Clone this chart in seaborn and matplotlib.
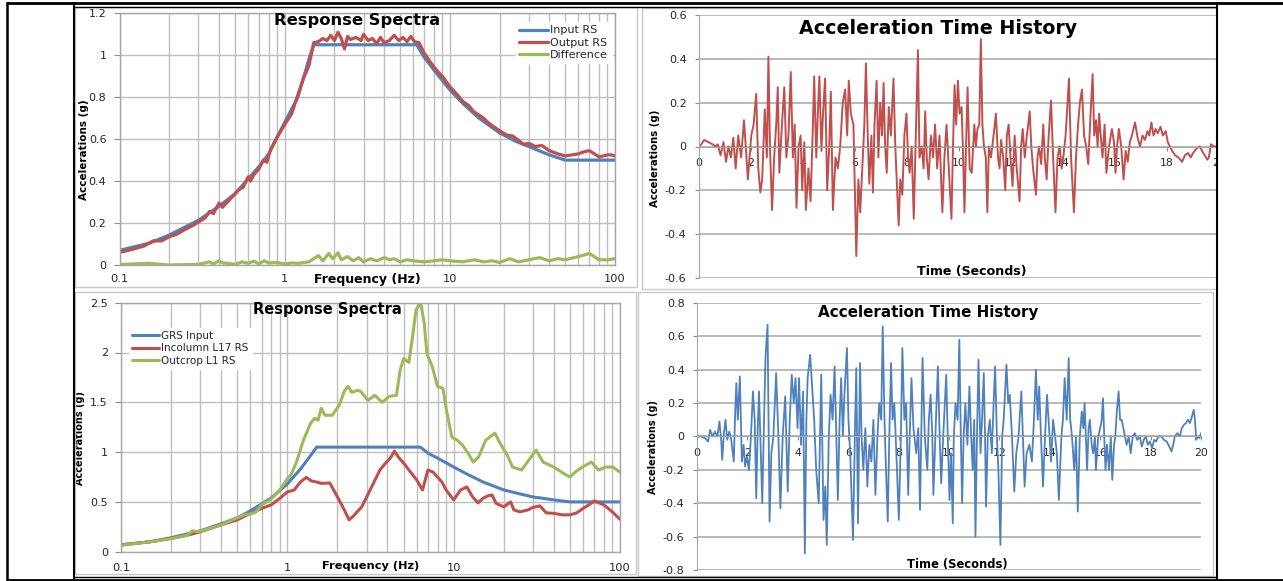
import matplotlib
matplotlib.use("Agg")
import matplotlib.pyplot as plt
import seaborn as sns
from matplotlib.ticker import LogLocator, NullFormatter
from matplotlib.patches import Rectangle
from matplotlib.lines import Line2D

# ---------------- data ----------------
freq_ticks = [0.1, 1, 10, 100]
freq_tick_labels = ["0.1", "1", "10", "100"]
time_ticks = [0, 2, 4, 6, 8, 10, 12, 14, 16, 18, 20]
time_tick_labels = ["0", "2", "4", "6", "8", "10", "12", "14", "16", "18", "20"]

rs1_yticks = [0, 0.2, 0.4, 0.6, 0.8, 1.0, 1.2]
rs1_yticklabels = ["0", "0.2", "0.4", "0.6", "0.8", "1", "1.2"]
rs2_yticks = [0, 0.5, 1.0, 1.5, 2.0, 2.5]
rs2_yticklabels = ["0", "0.5", "1", "1.5", "2", "2.5"]
th1_yticks = [-0.6, -0.4, -0.2, 0, 0.2, 0.4, 0.6]
th1_yticklabels = ["-0.6", "-0.4", "-0.2", "0", "0.2", "0.4", "0.6"]
th2_yticks = [-0.8, -0.6, -0.4, -0.2, 0, 0.2, 0.4, 0.6, 0.8]
th2_yticklabels = ["-0.8", "-0.6", "-0.4", "-0.2", "0", "0.2", "0.4", "0.6", "0.8"]

# Top-left response spectra
freq_input = [0.1, 0.15, 0.2, 0.3, 0.4, 0.5, 0.6, 0.7, 0.8, 1.0, 1.2, 1.4, 1.5, 6.3, 7, 8, 10, 12, 15, 20, 25, 30, 40, 50, 100]
input_rs = [0.07, 0.103, 0.143, 0.213, 0.28, 0.34, 0.41, 0.47, 0.53, 0.68, 0.80, 0.98, 1.05, 1.05, 0.99, 0.93, 0.835, 0.77, 0.70, 0.63, 0.59, 0.565, 0.525, 0.50, 0.50]

freq_output = [0.1, 0.12, 0.14, 0.16, 0.18, 0.2, 0.22, 0.25, 0.28, 0.3, 0.33, 0.35, 0.37, 0.4, 0.42, 0.45,
               0.5, 0.53, 0.56, 0.6, 0.62, 0.65, 0.7, 0.74, 0.78, 0.82, 0.9, 1.0, 1.1, 1.2, 1.3, 1.4, 1.5,
               1.6, 1.7, 1.8, 1.9, 2.0, 2.1, 2.2, 2.3, 2.4, 2.5, 2.7, 2.9, 3.0, 3.2, 3.4, 3.6, 3.8, 4.0,
               4.3, 4.6, 4.9, 5.2, 5.5, 5.8, 6.1, 6.5, 7.0, 7.5, 8.0, 8.5, 9.0, 10, 11, 12, 13, 14, 15,
               16, 17, 18, 20, 22, 24, 26, 28, 30, 33, 36, 40, 45, 50, 55, 60, 65, 70, 75, 80, 85, 90, 95, 100]
output_rs = [0.06, 0.075, 0.09, 0.115, 0.115, 0.135, 0.145, 0.17, 0.19, 0.205, 0.225, 0.255, 0.245, 0.295, 0.275, 0.30,
             0.34, 0.36, 0.37, 0.42, 0.40, 0.43, 0.46, 0.50, 0.49, 0.55, 0.61, 0.67, 0.72, 0.81, 0.89, 0.95, 1.06,
             1.065, 1.08, 1.07, 1.095, 1.07, 1.11, 1.08, 1.03, 1.09, 1.075, 1.085, 1.07, 1.10, 1.07, 1.08, 1.055, 1.085, 1.06,
             1.07, 1.095, 1.07, 1.085, 1.065, 1.09, 1.065, 1.06, 1.01, 0.975, 0.945, 0.92, 0.90, 0.85, 0.815, 0.78, 0.76, 0.73, 0.715,
             0.70, 0.68, 0.665, 0.64, 0.62, 0.615, 0.595, 0.575, 0.58, 0.565, 0.57, 0.545, 0.53, 0.52, 0.525, 0.53, 0.54, 0.545, 0.53, 0.515, 0.52, 0.525, 0.525, 0.52]

freq_diff = [0.1, 0.15, 0.2, 0.3, 0.35, 0.37, 0.4, 0.42, 0.45, 0.5, 0.55, 0.6, 0.65, 0.7, 0.75, 0.8, 0.9, 1.0,
             1.1, 1.2, 1.4, 1.6, 1.7, 1.85, 1.95, 2.1, 2.2, 2.4, 2.6, 2.8, 3.0, 3.3, 3.6, 4.0, 4.3, 4.6, 5.0,
             5.5, 6.0, 7.0, 8.0, 9.0, 10, 12, 14, 16, 18, 20, 23, 26, 30, 35, 40, 45, 50, 60, 70, 80, 90, 100]
diff_rs = [0.002, 0.008, 0.0, 0.003, 0.015, 0.005, 0.02, 0.01, 0.008, 0.003, 0.015, 0.008, 0.018, 0.005, 0.02, 0.01, 0.012, 0.005,
           0.01, 0.008, 0.015, 0.045, 0.02, 0.055, 0.03, 0.058, 0.025, 0.04, 0.02, 0.035, 0.015, 0.03, 0.02, 0.035, 0.025, 0.03, 0.015,
           0.025, 0.02, 0.015, 0.02, 0.025, 0.02, 0.015, 0.025, 0.015, 0.02, 0.012, 0.03, 0.015, 0.025, 0.035, 0.02, 0.03, 0.025, 0.04, 0.055, 0.025, 0.025, 0.03]

# Bottom-left response spectra
freq_grs = [0.1, 0.15, 0.2, 0.3, 0.4, 0.5, 0.6, 0.7, 0.8, 1.0, 1.2, 1.4, 1.5, 6.3, 7, 8, 10, 12, 15, 20, 25, 30, 40, 50, 100]
grs_input = [0.07, 0.10, 0.14, 0.21, 0.28, 0.34, 0.41, 0.48, 0.54, 0.68, 0.83, 0.98, 1.05, 1.05, 0.99, 0.94, 0.85, 0.78, 0.70, 0.62, 0.58, 0.55, 0.52, 0.50, 0.50]

freq_incol = [0.1, 0.15, 0.2, 0.25, 0.3, 0.4, 0.5, 0.6, 0.7, 0.8, 0.9, 1.0, 1.1, 1.2, 1.3, 1.4, 1.5, 1.6, 1.8,
              2.0, 2.2, 2.35, 2.5, 2.8, 3.0, 3.3, 3.6, 3.9, 4.2, 4.4, 4.7, 5.0, 5.5, 6.0, 6.5, 7.0, 7.5, 8.0,
              8.5, 9.0, 10, 11, 12, 13, 14, 15, 16, 17, 18, 20, 22, 23, 25, 28, 30, 33, 36, 40, 45, 50, 55,
              60, 65, 70, 75, 80, 90, 100]
incol_rs = [0.067, 0.10, 0.134, 0.165, 0.20, 0.27, 0.32, 0.385, 0.435, 0.47, 0.535, 0.60, 0.62, 0.70, 0.746, 0.71, 0.70, 0.686, 0.69,
            0.55, 0.42, 0.32, 0.36, 0.45, 0.55, 0.69, 0.82, 0.89, 0.95, 1.01, 0.94, 0.89, 0.80, 0.72, 0.62, 0.82, 0.80, 0.75,
            0.70, 0.62, 0.52, 0.62, 0.65, 0.55, 0.49, 0.535, 0.56, 0.57, 0.485, 0.45, 0.50, 0.42, 0.40, 0.42, 0.445, 0.46, 0.39, 0.385, 0.37, 0.37, 0.39,
            0.435, 0.47, 0.51, 0.49, 0.47, 0.40, 0.325]

freq_outcrop = [0.1, 0.15, 0.2, 0.25, 0.27, 0.29, 0.32, 0.4, 0.5, 0.55, 0.6, 0.65, 0.7, 0.75, 0.8, 0.9, 1.0, 1.05,
                1.13, 1.25, 1.38, 1.46, 1.53, 1.60, 1.68, 1.86, 2.05, 2.21, 2.32, 2.44, 2.63, 2.76, 3.05, 3.36, 3.72,
                4.10, 4.53, 4.76, 5.0, 5.38, 5.66, 5.94, 6.34, 6.66, 6.90, 7.43, 8.0, 8.62, 9.05, 9.75, 10.5, 11.3,
                12.2, 13.1, 14.1, 15.6, 17.7, 19.0, 21.0, 22.6, 25.6, 28.3, 31.3, 34.5, 40.0, 45.3, 50.0, 53.8, 59.4,
                67.3, 74.3, 82.0, 90.6, 100]
outcrop_rs = [0.065, 0.10, 0.13, 0.165, 0.21, 0.20, 0.22, 0.27, 0.34, 0.37, 0.38, 0.40, 0.47, 0.50, 0.53, 0.62, 0.73, 0.77,
              0.89, 1.12, 1.29, 1.34, 1.32, 1.44, 1.37, 1.37, 1.47, 1.62, 1.66, 1.60, 1.62, 1.61, 1.52, 1.57, 1.50,
              1.56, 1.57, 1.82, 1.94, 1.90, 2.16, 2.43, 2.50, 2.29, 1.99, 1.86, 1.66, 1.64, 1.42, 1.15, 1.12, 1.07,
              0.99, 0.90, 0.95, 1.12, 1.19, 1.09, 0.97, 0.85, 0.82, 0.92, 1.02, 0.90, 0.85, 0.79, 0.75, 0.80, 0.85,
              0.90, 0.82, 0.85, 0.85, 0.80]

# Top-right acceleration time history (seconds, g)
time_th1 = [0.0, 0.09, 0.2, 0.36, 0.52, 0.63, 0.72, 0.83, 0.94, 1.04, 1.13, 1.23, 1.32, 1.41, 1.51, 1.62, 1.73, 1.81, 1.88,
            2.01, 2.10, 2.20, 2.28, 2.36, 2.43, 2.53, 2.61, 2.67, 2.73, 2.81, 2.89, 2.97, 3.03, 3.09, 3.19, 3.28, 3.36,
            3.44, 3.53, 3.61, 3.68, 3.75, 3.83, 3.91, 3.97, 4.05, 4.11, 4.21, 4.29, 4.37, 4.43, 4.51, 4.57, 4.63, 4.71,
            4.77, 4.85, 4.93, 5.01, 5.07, 5.15, 5.25, 5.34, 5.43, 5.53, 5.62, 5.70, 5.76, 5.84, 5.94, 6.05, 6.13, 6.20,
            6.30, 6.36, 6.42, 6.49, 6.55, 6.63, 6.69, 6.75, 6.83, 6.90, 6.97, 7.04, 7.10, 7.16, 7.22, 7.30, 7.38, 7.48,
            7.55, 7.62, 7.68, 7.74, 7.82, 7.90, 7.98, 8.04, 8.10, 8.18, 8.26, 8.34, 8.42, 8.48, 8.56, 8.64, 8.70, 8.76,
            8.83, 8.92, 9.00, 9.08, 9.16, 9.25, 9.36, 9.44, 9.52, 9.61, 9.71, 9.77, 9.83, 9.89, 9.96, 10.02, 10.10,
            10.16, 10.21, 10.27, 10.33, 10.41, 10.49, 10.59, 10.65, 10.71, 10.78, 10.84, 10.90, 10.96, 11.03, 11.09,
            11.15, 11.23, 11.31, 11.42, 11.50, 11.56, 11.62, 11.70, 11.78, 11.84, 11.91, 11.98, 12.06, 12.14, 12.22,
            12.33, 12.39, 12.45, 12.53, 12.61, 12.72, 12.78, 12.85, 12.96, 13.02, 13.08, 13.16, 13.24, 13.30, 13.37,
            13.45, 13.54, 13.62, 13.71, 13.79, 13.87, 13.95, 14.03, 14.10, 14.23, 14.31, 14.42, 14.50, 14.58, 14.65,
            14.73, 14.81, 14.89, 14.97, 15.06, 15.14, 15.20, 15.27, 15.33, 15.39, 15.45, 15.52, 15.60, 15.67, 15.77,
            15.88, 15.96, 16.02, 16.08, 16.15, 16.24, 16.33, 16.41, 16.49, 16.57, 16.65, 16.77, 16.87, 16.96, 17.06,
            17.15, 17.25, 17.32, 17.40, 17.48, 17.56, 17.64, 17.75, 17.84, 17.95, 18.03, 18.11, 18.20, 18.31, 18.44,
            18.58, 18.69, 18.81, 18.91, 19.00, 19.13, 19.26, 19.35, 19.45, 19.55, 19.61, 19.69, 19.80, 19.92]
accel_th1 = [0.0, 0.01, 0.03, 0.02, 0.01, 0.0, 0.01, -0.04, 0.02, -0.07, 0.0, -0.05, 0.04, -0.1, 0.05, -0.05, 0.12, -0.02, -0.15,
             0.05, 0.1, 0.24, -0.1, -0.21, -0.15, 0.17, -0.05, 0.41, 0.0, -0.29, -0.05, 0.1, 0.27, -0.12, 0.1, 0.27, -0.05,
             0.05, 0.34, -0.05, 0.1, -0.28, 0.0, 0.05, -0.2, 0.02, -0.29, -0.1, -0.25, 0.05, 0.32, -0.05, 0.15, 0.32, -0.02,
             0.15, 0.31, -0.2, 0.0, 0.25, -0.29, -0.05, -0.1, 0.0, 0.2, 0.26, 0.05, 0.3, 0.15, 0.1, -0.5, -0.15, -0.3,
             -0.05, 0.1, 0.38, 0.05, -0.17, 0.05, -0.21, 0.1, 0.3, -0.05, 0.2, 0.05, 0.29, 0.0, -0.12, 0.18, 0.05, 0.31,
             0.0, -0.2, -0.36, -0.15, -0.22, 0.05, 0.15, -0.05, -0.12, 0.0, -0.33, 0.05, 0.44, -0.05, 0.0, -0.1, 0.16, -0.05,
             -0.15, 0.05, -0.05, 0.1, -0.1, 0.05, -0.3, -0.05, 0.1, -0.1, -0.33, 0.0, 0.28, 0.1, 0.3, 0.15, 0.18,
             -0.05, -0.3, 0.0, 0.27, -0.1, -0.12, 0.1, 0.0, 0.08, 0.1, 0.49, 0.1, 0.0, -0.05, -0.3,
             0.0, -0.05, 0.03, 0.15, -0.05, -0.1, 0.03, -0.05, -0.2, 0.05, 0.1, -0.05, -0.18, 0.05, -0.1,
             -0.25, 0.0, 0.08, -0.05, 0.05, 0.16, 0.0, -0.1, -0.22, -0.05, 0.0, -0.08, 0.1, -0.05, -0.15,
             0.05, 0.21, -0.05, -0.3, -0.05, 0.0, -0.1, -0.03, 0.05, 0.31, -0.05, -0.3, -0.05, 0.1, 0.2,
             0.26, 0.05, 0.0, -0.08, 0.15, 0.33, 0.05, 0.12, 0.0, 0.15, 0.05, -0.05, 0.1, -0.12, 0.0,
             0.08, 0.02, -0.12, 0.0, 0.08, 0.0, -0.15, -0.02, -0.07, 0.02, 0.05, 0.11, 0.04, 0.0, 0.05,
             0.03, 0.07, 0.05, 0.11, 0.05, 0.08, 0.06, 0.09, 0.05, 0.07, 0.02, 0.0, -0.02, -0.04, -0.05,
             -0.07, -0.04, -0.03, -0.05, -0.03, -0.01, 0.0, -0.02, -0.04, -0.06, -0.05, 0.01, 0.0, 0.0]

# Bottom-right acceleration time history (seconds, g)
time_th2 = [0.0, 0.16, 0.32, 0.44, 0.52, 0.62, 0.71, 0.81, 0.89, 0.96, 1.00, 1.07, 1.13, 1.20, 1.28, 1.36, 1.46, 1.51,
            1.56, 1.62, 1.70, 1.78, 1.85, 1.91, 1.98, 2.06, 2.14, 2.22, 2.29, 2.35, 2.41, 2.46, 2.53, 2.59, 2.66, 2.72,
            2.80, 2.88, 2.95, 3.03, 3.14, 3.23, 3.31, 3.40, 3.50, 3.60, 3.68, 3.76, 3.84, 3.91, 3.99, 4.05, 4.13, 4.21,
            4.28, 4.34, 4.39, 4.49, 4.57, 4.65, 4.73, 4.83, 4.93, 5.02, 5.09, 5.15, 5.23, 5.30, 5.38, 5.46, 5.53, 5.59,
            5.66, 5.72, 5.79, 5.85, 5.95, 6.01, 6.08, 6.19, 6.27, 6.32, 6.39, 6.47, 6.53, 6.60, 6.68, 6.76, 6.84, 6.92,
            7.00, 7.08, 7.16, 7.23, 7.31, 7.37, 7.44, 7.50, 7.57, 7.63, 7.70, 7.76, 7.83, 7.91, 8.01, 8.09, 8.15, 8.23,
            8.30, 8.38, 8.44, 8.51, 8.59, 8.70, 8.78, 8.85, 8.95, 9.04, 9.14, 9.20, 9.27, 9.34, 9.38, 9.47, 9.56, 9.63,
            9.69, 9.77, 9.89, 9.95, 10.02, 10.08, 10.15, 10.19, 10.26, 10.34, 10.41, 10.47, 10.52, 10.58, 10.65, 10.73,
            10.81, 10.88, 10.94, 11.00, 11.05, 11.11, 11.17, 11.25, 11.31, 11.38, 11.43, 11.47, 11.54, 11.62, 11.70,
            11.77, 11.83, 11.90, 11.96, 12.04, 12.11, 12.17, 12.28, 12.35, 12.41, 12.50, 12.59, 12.67, 12.76, 12.87,
            12.93, 13.00, 13.08, 13.19, 13.29, 13.37, 13.45, 13.52, 13.58, 13.65, 13.73, 13.81, 13.89, 13.97, 14.05,
            14.13, 14.21, 14.28, 14.36, 14.46, 14.52, 14.59, 14.67, 14.75, 14.81, 14.88, 14.97, 15.04, 15.11, 15.19,
            15.27, 15.33, 15.38, 15.43, 15.48, 15.54, 15.59, 15.66, 15.72, 15.79, 15.83, 15.92, 16.00, 16.06, 16.11,
            16.16, 16.21, 16.27, 16.35, 16.42, 16.48, 16.55, 16.60, 16.66, 16.73, 16.79, 16.85, 16.92, 16.98, 17.05,
            17.13, 17.21, 17.29, 17.37, 17.47, 17.57, 17.65, 17.73, 17.81, 17.89, 17.97, 18.06, 18.14, 18.22, 18.31,
            18.43, 18.53, 18.64, 18.74, 18.83, 18.91, 18.96, 19.06, 19.16, 19.24, 19.32, 19.40, 19.48, 19.56, 19.64,
            19.71, 19.76, 19.81, 19.87, 19.94, 20.0]
accel_th2 = [0.0, 0.0, -0.01, -0.03, 0.04, 0.0, 0.03, 0.0, 0.09, -0.02, -0.14, 0.02, 0.1, -0.02, 0.03, -0.02, -0.15, 0.12,
             0.32, 0.1, 0.36, -0.15, -0.05, -0.18, -0.12, -0.2, 0.0, 0.27, 0.1, -0.37, 0.05, 0.27, -0.1, -0.4, 0.1, 0.48,
             0.67, -0.51, -0.1, 0.0, 0.38, 0.0, -0.43, 0.0, 0.24, -0.33, 0.1, 0.37, 0.2, 0.35, 0.05, 0.35, -0.05, 0.27,
             -0.7, 0.1, 0.35, 0.49, 0.3, 0.1, -0.2, -0.4, 0.37, -0.5, -0.3, -0.65, 0.0, 0.25, 0.1, 0.42, 0.0, -0.38,
             0.1, 0.35, 0.0, 0.25, 0.53, 0.1, -0.1, -0.62, 0.05, 0.41, -0.52, 0.44, 0.0, -0.2, 0.05, -0.3, -0.05, -0.15,
             0.1, -0.35, 0.0, 0.2, 0.1, 0.66, 0.1, -0.2, -0.51, 0.0, 0.44, 0.1, 0.2, -0.1, -0.5, 0.0, 0.53, 0.1,
             0.2, -0.35, 0.0, 0.35, 0.05, -0.1, 0.05, -0.44, 0.47, 0.0, -0.2, 0.1, 0.25, 0.0, -0.35, 0.05, 0.42, 0.0,
             -0.28, 0.0, 0.37, 0.0, -0.38, -0.1, -0.52, 0.0, 0.2, 0.1, 0.58, 0.0, -0.4, 0.0, 0.2, -0.05,
             0.3, 0.0, -0.2, 0.1, -0.6, 0.0, 0.46, -0.1, 0.1, 0.38, 0.0, -0.42, 0.0, 0.1, -0.1,
             0.2, 0.42, 0.0, -0.2, -0.65, 0.0, 0.1, 0.43, 0.2, 0.25, 0.0, -0.33, -0.1, 0.0, 0.27,
             0.0, -0.3, -0.1, -0.05, -0.15, 0.1, 0.4, 0.1, 0.3, 0.0, -0.3, 0.0, 0.25, 0.05, -0.15,
             0.1, 0.0, -0.1, -0.38, 0.0, 0.1, 0.35, 0.1, 0.47, 0.1, 0.0, -0.2, 0.0, -0.45, 0.0,
             0.15, 0.05, 0.2, 0.0, -0.2, 0.05, 0.1, -0.05, -0.1, 0.0, -0.2, 0.0, 0.05, 0.1, 0.23,
             0.0, -0.2, -0.05, -0.2, 0.0, -0.26, -0.05, 0.0, 0.15, 0.27, 0.1, 0.1, 0.05, 0.0, -0.05,
             0.0, -0.1, 0.0, 0.02, -0.02, 0.0, -0.06, -0.02, 0.0, -0.05, -0.03, -0.07, -0.02, -0.03, 0.0,
             0.0, -0.02, -0.03, -0.06, -0.09, -0.04, 0.0, 0.02, 0.0, 0.05, 0.07, 0.08, 0.1, 0.08, 0.12,
             0.16, 0.1, -0.02, 0.0, -0.01, 0.02]

# ---------------- style ----------------
sns.set_style("white")
plt.rcParams['font.family'] = ['DejaVu Sans']
plt.rcParams['axes.unicode_minus'] = False

BLUE = '#4F81BD'
RED = '#C0504D'
GREEN = '#9BBB59'
GRID = '#BEBEBE'
TXT = '#262626'

W, H = 1283, 581
fig = plt.figure(figsize=(W / 100, H / 100), dpi=100)
fig.patch.set_facecolor('white')


def px_axes(x0, x1, ytop, ybot):
    return fig.add_axes([x0 / W, 1 - ybot / H, (x1 - x0) / W, (ybot - ytop) / H])


def style_spectra(ax, ymax, yticks, ylabels, xpad):
    ax.set_xscale('log')
    ax.set_xlim(0.1, 100)
    ax.set_ylim(0, ymax)
    ax.set_xticks(freq_ticks)
    ax.set_xticklabels(freq_tick_labels)
    ax.xaxis.set_minor_locator(LogLocator(base=10, subs=[2, 3, 4, 5, 6, 7, 8, 9]))
    ax.xaxis.set_minor_formatter(NullFormatter())
    ax.set_yticks(yticks)
    ax.set_yticklabels(ylabels)
    ax.grid(True, which='both', axis='x', color=GRID, lw=1.0)
    ax.grid(True, which='major', axis='y', color=GRID, lw=1.0)
    ax.tick_params(axis='y', which='major', left=True, length=4.5, width=0.8, color='#8C8C8C',
                   pad=5, labelsize=8, labelcolor=TXT)
    ax.tick_params(axis='x', which='both', bottom=False, length=0, pad=xpad, labelsize=8.2, labelcolor=TXT)
    for s in ax.spines.values():
        s.set_color('#A6A6A6')
        s.set_linewidth(1.0)
    ax.set_axisbelow(True)
    ax.set_xlabel('')
    ax.set_ylabel('')


def style_th(ax, ylim, yticks, ylabels):
    ax.set_xlim(0, 20)
    ax.set_ylim(-ylim, ylim)
    ax.set_xticks(time_ticks)
    ax.set_xticklabels(time_tick_labels)
    ax.set_yticks(yticks)
    ax.set_yticklabels(ylabels)
    ax.grid(True, axis='y', color='#B4B4B4', lw=1.3)
    ax.grid(False, axis='x')
    ax.spines['bottom'].set_position(('data', 0))
    ax.spines['top'].set_visible(False)
    ax.spines['right'].set_visible(False)
    ax.spines['left'].set_color('#A6A6A6')
    ax.spines['bottom'].set_color('#A6A6A6')
    ax.tick_params(axis='y', left=True, length=3, width=0.8, color='#8C8C8C', pad=6, labelsize=8, labelcolor=TXT)
    ax.tick_params(axis='x', bottom=True, length=3, width=0.8, color='#8C8C8C', pad=5, labelsize=7.8, labelcolor=TXT)
    ax.set_axisbelow(True)
    ax.set_xlabel('')
    ax.set_ylabel('')


def labels(ax, title, tpos, tsize, xl, xpos, xsize, ypos, ysize):
    ax.text(tpos[0], tpos[1], title, transform=ax.transAxes, ha='center', va='center',
            fontsize=tsize, fontweight='bold', color='black', zorder=6)
    ax.text(xpos[0], xpos[1], xl, transform=ax.transAxes, ha='center', va='center',
            fontsize=xsize, fontweight='bold', color='black', clip_on=False)
    ax.text(ypos[0], ypos[1], 'Accelerations (g)', transform=ax.transAxes, ha='center', va='center',
            rotation=90, fontsize=ysize, fontweight='bold', color='black', clip_on=False)


# ---------------- top-left: response spectra ----------------
ax1 = px_axes(119.6, 615, 13.3, 265)
ax1.set_xscale('log')
sns.lineplot(x=freq_input, y=input_rs, ax=ax1, color=BLUE, lw=2.3, label='Input RS', estimator=None, sort=False)
sns.lineplot(x=freq_output, y=output_rs, ax=ax1, color=RED, lw=2.3, label='Output RS', estimator=None, sort=False)
sns.lineplot(x=freq_diff, y=diff_rs, ax=ax1, color=GREEN, lw=2.3, label='Difference', estimator=None, sort=False)
style_spectra(ax1, 1.2, rs1_yticks, rs1_yticklabels, 6.5)
leg = ax1.legend(loc='upper left', bbox_to_anchor=(0.80, 0.965), fontsize=8, frameon=True, framealpha=1,
                 edgecolor='white', fancybox=False, borderpad=0.3, handlelength=2.6, handletextpad=0.2,
                 labelspacing=0.2, borderaxespad=0)
for t in leg.get_texts():
    t.set_color(TXT)
labels(ax1, 'Response Spectra', (0.479, 0.973), 11.8, 'Frequency (Hz)', (0.501, -0.056), 9, (-0.072, 0.457), 7.5)

# ---------------- top-right: time history ----------------
ax2 = px_axes(699, 1219, 15, 278)
sns.lineplot(x=time_th1, y=accel_th1, ax=ax2, color=RED, lw=1.4, estimator=None, sort=False)
style_th(ax2, 0.6, th1_yticks, th1_yticklabels)
labels(ax2, 'Acceleration Time History', (0.46, 0.95), 13.7, 'Time (Seconds)', (0.525, 0.023), 9.1, (-0.085, 0.456), 7.3)

# ---------------- bottom-left: response spectra ----------------
ax3 = px_axes(121, 620, 302.7, 551.7)
ax3.set_xscale('log')
sns.lineplot(x=freq_grs, y=grs_input, ax=ax3, color=BLUE, lw=2.2, label='GRS Input', estimator=None, sort=False)
sns.lineplot(x=freq_incol, y=incol_rs, ax=ax3, color=RED, lw=2.2, label='Incolumn L17 RS', estimator=None, sort=False)
sns.lineplot(x=freq_outcrop, y=outcrop_rs, ax=ax3, color=GREEN, lw=2.2, label='Outcrop L1 RS', estimator=None, sort=False)
style_spectra(ax3, 2.5, rs2_yticks, rs2_yticklabels, 8)
leg = ax3.legend(loc='upper left', bbox_to_anchor=(0.016, 0.90), fontsize=7.5, frameon=True, framealpha=1,
                 edgecolor='white', fancybox=False, borderpad=0.3, handlelength=2.6, handletextpad=0.2,
                 labelspacing=0.25, borderaxespad=0)
for t in leg.get_texts():
    t.set_color(TXT)
labels(ax3, 'Response Spectra', (0.413, 0.971), 10.5, 'Frequency (Hz)', (0.501, -0.057), 8.2, (-0.082, 0.457), 7.0)

# ---------------- bottom-right: time history ----------------
ax4 = px_axes(697, 1201, 303, 570)
sns.lineplot(x=time_th2, y=accel_th2, ax=ax4, color=BLUE, lw=1.3, estimator=None, sort=False)
style_th(ax4, 0.8, th2_yticks, th2_yticklabels)
labels(ax4, 'Acceleration Time History', (0.458, 0.963), 10.9, 'Time (Seconds)', (0.516, 0.022), 8.3, (-0.087, 0.46), 7.0)

# ---------------- page frame (table borders) ----------------
ov = fig.add_axes([0, 0, 1, 1], zorder=20)
ov.set_xlim(0, W)
ov.set_ylim(H, 0)
ov.axis('off')
ov.patch.set_alpha(0)

ov.add_patch(Rectangle((1218, 8), 65, 568, facecolor='white', edgecolor='none', zorder=1))
for (x, y, w, h) in [(75, 7, 562, 280), (642, 8, 575, 281), (75, 292, 561, 282), (638, 292, 575, 284)]:
    ov.add_patch(Rectangle((x, y), w, h, facecolor='none', edgecolor='#C8C8C8', lw=1.0, zorder=2))

black = dict(color='black', solid_capstyle='butt', zorder=3)
ov.add_line(Line2D([6, 1283], [2.5, 2.5], lw=2.0, **black))
ov.add_line(Line2D([74, 1217], [6.5, 6.5], lw=1.0, **black))
ov.add_line(Line2D([6, 1283], [579.5, 579.5], lw=2.0, **black))
ov.add_line(Line2D([74, 1217], [576.5, 576.5], lw=1.0, **black))
ov.add_line(Line2D([6.5, 6.5], [2, 580], lw=1.8, **black))
ov.add_line(Line2D([74, 74], [2, 580], lw=1.5, **black))
ov.add_line(Line2D([1217, 1217], [2, 580], lw=1.5, **black))

fig.savefig('out.png', dpi=100, facecolor='white')
